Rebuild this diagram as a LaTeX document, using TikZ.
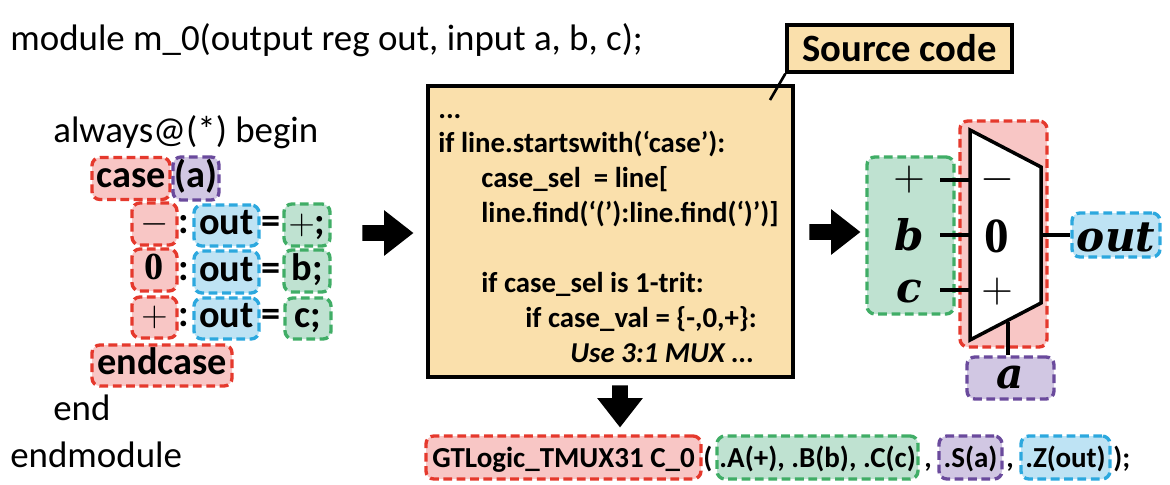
\documentclass[tikz,border=0pt]{standalone}
\usepackage{fontspec}
\usepackage{xcolor}
\usetikzlibrary{shapes.arrows}
\setmainfont{Carlito}
\newfontfamily\muxfont{Liberation Serif}
\newfontfamily\wirefont{DejaVu Serif}
\definecolor{redfill}{HTML}{F8C6C5}
\definecolor{reddash}{HTML}{E5392D}
\definecolor{purplefill}{HTML}{D1C7E3}
\definecolor{purpledash}{HTML}{6A4A9C}
\definecolor{bluefill}{HTML}{BEE3F4}
\definecolor{bluedash}{HTML}{2CA8DE}
\definecolor{greenfill}{HTML}{BFE2D1}
\definecolor{greendash}{HTML}{40AD66}
\definecolor{srcfill}{HTML}{FAE0AC}
\tikzset{
  plaintext/.style={font=\fontsize{21}{24}\selectfont,anchor=base west,inner sep=0pt},
  srctext/.style={font=\fontsize{16.4}{18}\selectfont\bfseries,anchor=base west,inner sep=0pt},
  tagbox/.style 2 args={rounded corners=4.5pt,line width=1.9pt,dash pattern=on 5pt off 2.6pt,
    minimum width=#1*0.02cm,minimum height=#2*0.02cm,inner sep=0pt,
    text height=14.6pt,text depth=3.8pt,
    font=\fontsize{21.8}{26}\selectfont\bfseries},
  redbox/.style={draw=reddash,fill=redfill},
  purplebox/.style={draw=purpledash,fill=purplefill},
  bluebox/.style={draw=bluedash,fill=bluefill},
  greenbox/.style={draw=greendash,fill=greenfill},
  portbox/.style={font=\fontsize{16.5}{18}\selectfont\bfseries,text height=14pt,text depth=3.1pt},
  muxlabel/.style={font=\fontsize{24}{30}\selectfont\wirefont\bfseries\itshape,inner sep=0pt},
  muxsign/.style={font=\fontsize{29}{30}\selectfont\muxfont,inner sep=0pt},
  wire/.style={line width=2pt},
  bigarrow/.style={single arrow,fill=black,inner sep=0pt,anchor=tail,
    text height=0.15cm,text depth=0.15cm,
    single arrow head extend=0.3cm,single arrow tip angle=76,
    minimum width=0.9cm,minimum height=1.02cm},
}
\begin{document}
\begin{tikzpicture}[x=0.02cm,y=-0.02cm]
\useasboundingbox (0,0) rectangle (1170,484);

% verilog text on the left
\node[plaintext] (modline) at (10,50) {module m\_0(output reg out, input a, b, c);};
\node[plaintext] (alwaysline) at (53,142) {always@(*) begin};
\node[plaintext] (endline) at (53,420) {end};
\node[plaintext] (endmodline) at (10,467) {endmodule};

\node[tagbox={78}{42},redbox] (casekey) at (131,178.5) {case};
\node[tagbox={46}{43},purplebox] (casesel) at (196,178.5) {(a)};
\node[tagbox={45}{42},redbox] (keyminus) at (154.5,224) {\muxfont$-$};
\node[tagbox={45}{42},redbox] (keyzero) at (154.5,270) {\muxfont 0};
\node[tagbox={45}{41},redbox] (keyplus) at (154.5,317.5) {\muxfont$+$};
\node[tagbox={65}{41},bluebox] (outa) at (226.5,225.5) {out};
\node[tagbox={65}{42},bluebox] (outb) at (226.5,272) {out};
\node[tagbox={65}{41},bluebox] (outc) at (226.5,318.5) {out};
\node[tagbox={46}{42},greenbox] (vala) at (307,225) {\muxfont$+$\rmfamily;};
\node[tagbox={46}{42},greenbox] (valb) at (307,271) {b;};
\node[tagbox={46}{41},greenbox] (valc) at (308,318.5) {c;};
\node[tagbox={140}{41},redbox] (endkey) at (162,365.5) {endcase};
\foreach \y/\n in {225/a,272/b,318/c} {
  \node[plaintext,font=\fontsize{21.8}{26}\selectfont\bfseries,anchor=center] (colon\n) at (184,\y) {:};
  \node[plaintext,font=\fontsize{21.8}{26}\selectfont\bfseries,anchor=center] (equal\n) at (271,\y) {=};
}

\node[bigarrow] (arrowleft) at (362,233) {};

% python source box
\node[draw,line width=1.9pt,fill=srcfill,minimum width=365*0.02cm,minimum height=291*0.02cm,inner sep=0pt] (srcbox) at (610.5,231.5) {};
\coordinate (srcpoint) at (770,100);
\node[draw,line width=1.9pt,fill=srcfill,minimum width=225*0.02cm,minimum height=47*0.02cm,inner sep=0pt,font=\fontsize{22}{24}\selectfont\bfseries] (srctag) at (899.5,48.5) {Source code};
\draw[line width=1.5pt] (srctag.south west) -- (srcpoint);
\node[srctext] (srcdots) at (438,118) {...};
\node[srctext] (srcifa) at (438,152) {if line.startswith(‘case’):};
\node[srctext] (srcsel) at (481,187) {case\_sel\ \ = line[};
\node[srctext] (srcfind) at (481,222) {line.find(‘(’):line.find(‘)’)]};
\node[srctext] (srcifb) at (481,292) {if case\_sel is 1-trit:};
\node[srctext] (srcifc) at (525,327) {if case\_val = \{-,0,+\}:};
\node[srctext,font=\fontsize{16.4}{18}\selectfont\bfseries\itshape] (srcuse) at (570,362) {Use 3:1 MUX ...};

\node[bigarrow] (arrowright) at (809,232) {};
\node[bigarrow,shape border rotate=270,text width=0.3cm,minimum height=0.84cm] (arrowdown) at (620,385) {};

% mux
\node[tagbox={87}{157},greenbox] (muxin) at (910.5,235.5) {};
\node[tagbox={87}{226},redbox] (muxsel) at (1003.5,234) {};
\coordinate (muxa) at (940,180);
\coordinate (muxb) at (940,235);
\coordinate (muxc) at (940,290);
\draw[wire,fill=white,miter limit=3] (970,130) coordinate (muxtl) -- (1041,167) -- (1041,303) -- (970,340) coordinate (muxbl) -- cycle;
\coordinate (muxam) at (970,180);
\coordinate (muxbm) at (970,235);
\coordinate (muxcm) at (970,290);
\draw[wire] (muxa) -- (muxam);
\draw[wire] (muxb) -- (muxbm);
\draw[wire] (muxc) -- (muxcm);
\node[muxsign] (ina) at (909,180) {$+$};
\node[muxlabel] (inb) at (909,235) {b};
\node[muxlabel] (inc) at (909,292) {c};
\node[muxsign] (selminus) at (997,180) {$-$};
\node[muxsign,font=\fontsize{28}{30}\selectfont\muxfont\bfseries] (selzero) at (997,236) {0};
\node[muxsign] (selplus) at (997,292) {$+$};
\node[tagbox={88}{44},bluebox] (outbox) at (1116,235) {};
\node[muxlabel] (outlabel) at (1116,237) {out};
\node[tagbox={87}{42},purplebox] (abox) at (1010.5,378) {};
\node[muxlabel] (alabel) at (1010,378) {a};
\coordinate (muxout) at (1041,235);
\coordinate (muxstem) at (1008,322);
\draw[wire] (muxout) -- (outbox.west);
\draw[wire] (muxstem) -- (muxstem |- abox.north);

% bottom line
\node[tagbox={275}{43},redbox,portbox] (portname) at (563.5,457.5) {GTLogic\_TMUX31 C\_0};
\node[tagbox={201}{43},greenbox,portbox] (portin) at (817.5,457.5) {.A(+), .B(b), .C(c)};
\node[tagbox={63}{43},purplebox,portbox] (portsel) at (970.5,457.5) {.S(a)};
\node[tagbox={89}{43},bluebox,portbox] (portout) at (1065.5,457.5) {.Z(out)};
\node[srctext] (parenopen) at (703,467) {(};
\node[srctext] (commaa) at (924,467) {,};
\node[srctext] (commab) at (1006,467) {,};
\node[srctext] (parenclose) at (1113,467) {);};
\end{tikzpicture}
\end{document}
